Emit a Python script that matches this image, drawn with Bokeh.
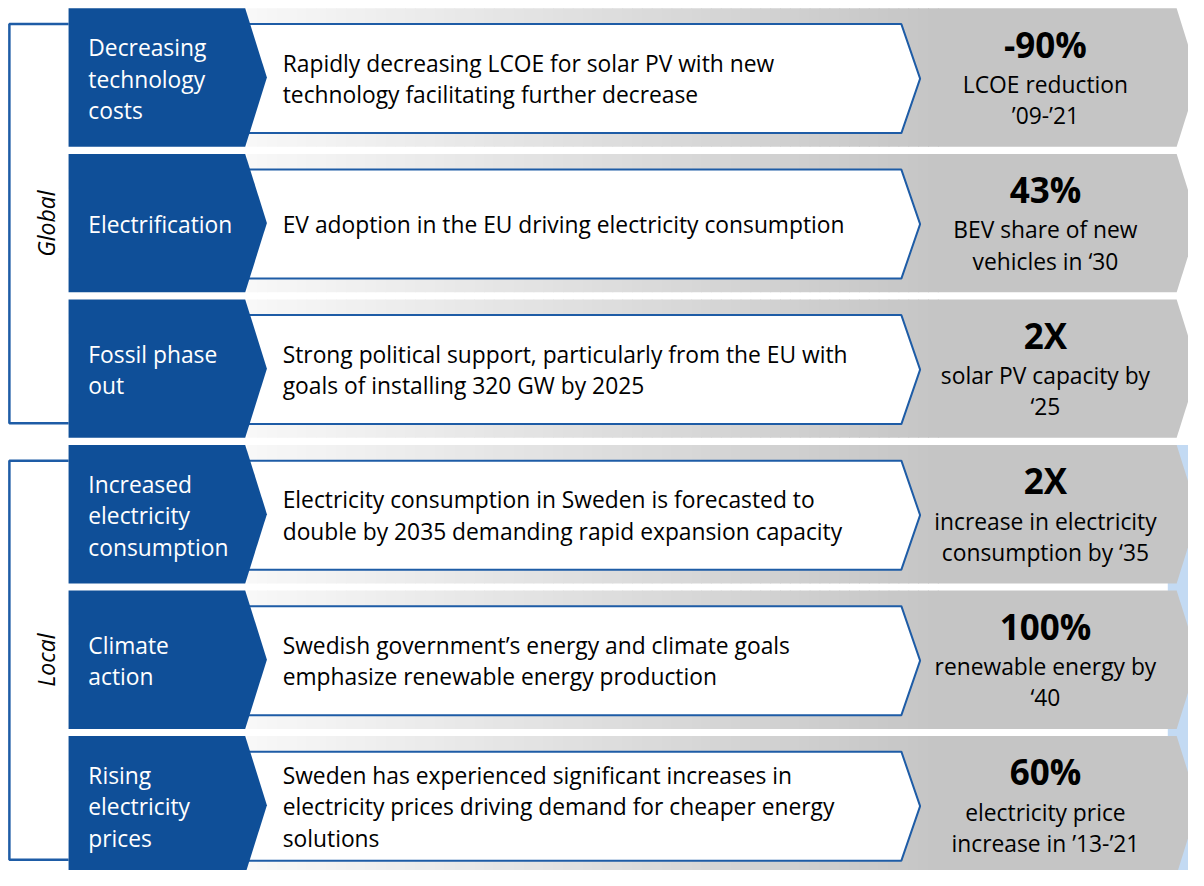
import math
from bokeh.plotting import figure
from bokeh.models import Range1d, Label
from bokeh.embed import file_html
from bokeh.resources import INLINE
from bokeh.core.properties import value

# ---------------- content ----------------
groups = ["Global", "Local"]
group_rows = [[0, 1, 2], [3, 4, 5]]

drivers = [
    "Decreasing\ntechnology\ncosts",
    "Electrification",
    "Fossil phase\nout",
    "Increased\nelectricity\nconsumption",
    "Climate\naction",
    "Rising\nelectricity\nprices",
]
descriptions = [
    "Rapidly decreasing LCOE for solar PV with new\ntechnology facilitating further decrease",
    "EV adoption in the EU driving electricity consumption",
    "Strong political support, particularly from the EU with\ngoals of installing 320 GW by 2025",
    "Electricity consumption in Sweden is forecasted to\ndouble by 2035 demanding rapid expansion capacity",
    "Swedish government\u2019s energy and climate goals\nemphasize renewable energy production",
    "Sweden has experienced significant increases in\nelectricity prices driving demand for cheaper energy\nsolutions",
]
kpi_values = ["-90%", "43%", "2X", "2X", "100%", "60%"]
kpi_notes = [
    "LCOE reduction\n\u201909-\u201921",
    "BEV share of new\nvehicles in \u201830",
    "solar PV capacity by\n\u201825",
    "increase in electricity\nconsumption by \u201835",
    "renewable energy by\n\u201840",
    "electricity price\nincrease in \u201913-\u201921",
]

# ---------------- layout / style ----------------
FONT = "Open Sans"
BODY = "22.8px"
BLUE = "#0F4F98"
LINE_BLUE = "#1E5CA6"
ROW0, PITCH, ROW_H = 8.0, 148.2, 141.0
LINE_GAP = 32.0

p = figure(width=1188, height=870, x_range=Range1d(0, 1204), y_range=Range1d(886, 0),
           output_backend="svg", toolbar_location=None, min_border=0,
           background_fill_color="white", border_fill_color="white")
p.outline_line_color = None
p.axis.visible = False
p.grid.visible = False

n = len(drivers)
tops = [ROW0 + PITCH * i for i in range(n)]
bots = [t + ROW_H for t in tops]
mids = [(t + b) / 2 for t, b in zip(tops, bots)]

# light blue backdrop behind local rows (right edge)
loc_top = tops[group_rows[1][0]]
p.quad(left=[1183], right=[1240], top=[loc_top], bottom=[900], fill_color="#C3DAF3", line_color=None)

# gray gradient bands
def gray(xc):
    g0, g1, x0, x1 = 248, 197, 250, 950
    f = min(max((xc - x0) / (x1 - x0), 0), 1)
    v = int(round(g0 + (g1 - g0) * f))
    return "#%02x%02x%02x" % (v, v, v)

ql, qr, qt, qb, qc = [], [], [], [], []
for t, b in zip(tops, bots):
    for x in range(250, 950, 10):
        ql.append(x); qr.append(x + 11); qt.append(t); qb.append(b); qc.append(gray(x + 5))
p.quad(left=ql, right=qr, top=qt, bottom=qb, fill_color=qc, line_color=None)
p.patches(xs=[[950, 1192, 1214, 1192, 950] for _ in tops],
          ys=[[t, t, m, b, b] for t, m, b in zip(tops, mids, bots)],
          fill_color=gray(1000), line_color=None)

# white description boxes
p.patches(xs=[[240, 913, 932, 913, 240] for _ in tops],
          ys=[[t + 16, t + 16, m + 1, b - 14, b - 14] for t, m, b in zip(tops, mids, bots)],
          fill_color="white", line_color=LINE_BLUE, line_width=2)

# group brackets
br_xs, br_ys = [], []
for rows in group_rows:
    yt = tops[rows[0]] + 16
    yb = bots[rows[-1]] - 15
    br_xs.append([69, 9, 9, 69]); br_ys.append([yt, yt, yb, yb])
p.multi_line(xs=br_xs, ys=br_ys, line_color=LINE_BLUE, line_width=2.5)

# blue driver chevrons
p.patches(xs=[[69, 248, 270, 248, 69] for _ in tops],
          ys=[[t, t, m, b, b] for t, m, b in zip(tops, mids, bots)],
          fill_color=BLUE, line_color=None)

# group labels
for g, rows in zip(groups, group_rows):
    yc = (tops[rows[0]] + 16 + bots[rows[-1]] - 15) / 2
    p.add_layout(Label(x=46, y=yc, text=g, angle=math.pi / 2, text_align="center",
                       text_baseline="middle", text_font=FONT, text_font_style="italic",
                       text_font_size="23px", text_color="black"))

def lines(texts, x, offset):
    xs, ys, ts = [], [], []
    for t, m in zip(texts, mids):
        parts = t.split("\n")
        k = len(parts)
        for j, s in enumerate(parts):
            xs.append(x); ys.append(m + offset + (j - (k - 1) / 2) * LINE_GAP); ts.append(s)
    return xs, ys, ts

dx, dy, dt = lines(drivers, 89, 1.5)
p.text(x=dx, y=dy, text=dt, text_font=value(FONT), text_font_size=BODY, text_color="white",
       text_align="left", text_baseline="middle")

ex, ey, et = lines(descriptions, 286, 1.5)
p.text(x=ex, y=ey, text=et, text_font=value(FONT), text_font_size=BODY, text_color="black",
       text_align="left", text_baseline="middle")

p.text(x=[1059] * n, y=[m - 34 for m in mids], text=kpi_values, text_font=value(FONT),
       text_font_size="35px", text_font_style="bold", text_color="black",
       text_align="center", text_baseline="middle")

nx, ny, nt = [], [], []
for t, m in zip(kpi_notes, mids):
    for j, s in enumerate(t.split("\n")):
        nx.append(1059); ny.append(m + 7 + j * LINE_GAP); nt.append(s)
p.text(x=nx, y=ny, text=nt, text_font=value(FONT), text_font_size=BODY, text_color="black",
       text_align="center", text_baseline="middle")

open("out.html", "w").write(file_html(p, INLINE))
